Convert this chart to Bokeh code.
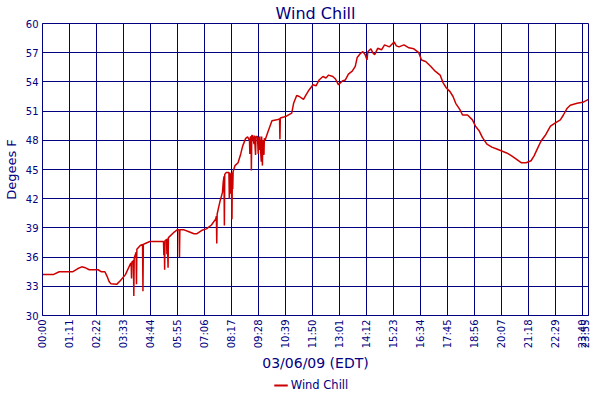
import math
from bokeh.plotting import figure
from bokeh.layouts import column
from bokeh.models import Range1d, FixedTicker, Legend, LegendItem, ColumnDataSource
from bokeh.embed import file_html
from bokeh.resources import INLINE

# time of day in minutes since 00:00
minutes = [0, 28, 44, 80, 92, 103, 113, 123, 146, 154, 164, 170, 175, 180, 195, 205, 218,
           231, 233, 234, 235, 239, 240, 241, 246, 247, 248, 257, 263, 264, 265, 270, 282,
           318, 319, 320, 321, 322, 326, 327, 328, 330, 331, 347, 354, 359, 360, 361, 372,
           385, 398, 406, 419, 431, 444, 455, 457, 458, 459, 462, 467, 473, 475, 477, 478,
           479, 483, 490, 491, 492, 494, 495, 497, 498, 499, 500, 501, 506, 514, 521, 526,
           534, 539, 544, 545, 546, 548, 549, 550, 552, 556, 557, 560, 561, 565, 567, 568,
           570, 571, 575, 576, 578, 579, 582, 583, 585, 591, 603, 616, 623, 624, 625, 634,
           642, 655, 660, 668, 675, 686, 693, 701, 711, 719, 727, 737, 745, 752, 763, 770,
           778, 788, 796, 804, 814, 822, 827, 835, 842, 848, 853, 855, 863, 868, 873, 881,
           891, 899, 912, 924, 930, 937, 950, 963, 976, 989, 996, 1007, 1020, 1032, 1045,
           1053, 1061, 1071, 1079, 1086, 1097, 1104, 1117, 1130, 1138, 1148, 1156, 1168,
           1181, 1194, 1207, 1220, 1233, 1246, 1258, 1271, 1284, 1292, 1302, 1310, 1323,
           1335, 1348, 1361, 1369, 1379, 1387, 1405, 1420, 1435]

wind_chill = [34.2, 34.2, 34.5, 34.5, 34.8, 35.0, 34.9, 34.7, 34.7, 34.5, 34.5, 34.0, 33.5, 33.25, 33.2, 33.6, 34.2,
              35.3, 35.4, 33.8, 35.5, 35.6, 32.0, 35.9, 36.5, 33.2, 36.8, 37.2, 37.3, 32.5, 37.3, 37.4, 37.6,
              37.6, 36.2, 37.6, 34.7, 37.7, 37.8, 36.3, 37.9, 34.9, 38.0, 38.6, 38.8, 38.8, 36.0, 38.8, 38.8,
              38.6, 38.4, 38.4, 38.75, 38.9, 39.3, 39.9, 40.2, 37.4, 40.4, 40.95, 41.8, 42.65, 43.7, 44.3, 39.25,
              44.5, 44.7, 44.7, 42.0, 44.7, 42.5, 44.6, 42.8, 39.9, 44.7, 43.0, 44.8, 45.4, 45.7, 46.6, 47.4,
              48.2, 48.35, 48.0, 46.6, 48.3, 48.4, 44.9, 48.5, 48.5, 47.6, 48.5, 46.5, 48.4, 48.4, 46.6, 48.3,
              47.0, 48.4, 45.8, 48.4, 45.4, 48.0, 46.5, 48.2, 48.0, 48.7, 50.0, 50.1, 50.2, 48.1, 50.3, 50.4,
              50.5, 50.8, 51.8, 52.6, 52.5, 52.2, 52.7, 53.2, 53.7, 53.6, 54.2, 54.55, 54.4, 54.7, 54.55, 54.3,
              53.7, 54.1, 54.2, 54.8, 55.1, 55.6, 56.5, 56.9, 57.1, 56.8, 56.25, 57.1, 57.4, 57.0, 56.8, 57.45,
              57.3, 57.8, 57.6, 58.1, 57.7, 57.6, 57.8, 57.5, 57.4, 57.0, 56.25, 56.1, 55.6, 55.1, 54.7,
              53.9, 53.4, 53.0, 52.5, 51.8, 51.15, 50.6, 50.6, 50.1, 49.45, 48.95, 48.3, 47.6,
              47.3, 47.1, 46.9, 46.7, 46.4, 46.05, 45.7, 45.7, 45.9, 46.4, 47.25, 47.9, 48.6,
              49.45, 49.8, 50.1, 50.6, 51.3, 51.6, 51.8, 51.9, 52.2]

x_tick_minutes = [0, 71, 142, 213, 284, 355, 426, 497, 568, 639, 710, 781, 852, 923, 994,
                  1065, 1136, 1207, 1278, 1349, 1420, 1435]
x_tick_labels = ["00:00", "01:11", "02:22", "03:33", "04:44", "05:55", "07:06", "08:17",
                 "09:28", "10:39", "11:50", "13:01", "14:12", "15:23", "16:34", "17:45",
                 "18:56", "20:07", "21:18", "22:29", "23:40", "23:55"]
y_ticks = [30, 33, 36, 39, 42, 45, 48, 51, 54, 57, 60]

NAVY = "#000080"
RED = "#CC0000"
FONT = "DejaVu Sans"

source = ColumnDataSource(dict(minute=minutes, chill=wind_chill))

p = figure(frame_width=546, frame_height=292, output_backend="svg", toolbar_location=None,
           x_range=Range1d(0, 1435), y_range=Range1d(30, 60),
           min_border_left=4, min_border_right=2, min_border_top=2, min_border_bottom=0)

p.title.text = "Wind Chill"
p.title.align = "center"
p.title.text_font = FONT
p.title.text_font_size = "16px"
p.title.text_font_style = "normal"
p.title.text_color = NAVY
p.title.standoff = 2

p.line("minute", "chill", source=source, line_color=RED, line_width=1.5)

p.xaxis.ticker = FixedTicker(ticks=x_tick_minutes)
p.xaxis.major_label_overrides = {m: l for m, l in zip(x_tick_minutes, x_tick_labels)}
p.xaxis.major_label_orientation = math.pi / 2
p.yaxis.ticker = FixedTicker(ticks=y_ticks)

for ax in (p.xaxis[0], p.yaxis[0]):
    ax.axis_line_color = NAVY
    ax.major_tick_out = 0
    ax.major_tick_in = 0
    ax.minor_tick_out = 0
    ax.minor_tick_in = 0
    ax.major_label_text_color = NAVY
    ax.major_label_text_font = FONT
    ax.major_label_text_font_size = "10px"
    ax.axis_label_text_color = NAVY
    ax.axis_label_text_font = FONT
    ax.axis_label_text_font_style = "normal"
    ax.major_label_standoff = 4
    ax.axis_label_standoff = 4

p.xaxis.axis_label = "03/06/09 (EDT)"
p.xaxis.axis_label_text_font_size = "14px"
p.yaxis.axis_label = "Degees F"
p.yaxis.axis_label_text_font_size = "13px"

p.grid.grid_line_color = NAVY
p.grid.grid_line_width = 1
p.grid.grid_line_alpha = 1
p.outline_line_color = NAVY
p.outline_line_alpha = 1

# separate thin strip that only carries the legend (its line lies outside its view)
lf = figure(width=582, height=22, output_backend="svg", toolbar_location=None,
            x_axis_type=None, y_axis_type=None,
            x_range=Range1d(-20, -10), y_range=Range1d(0, 1),
            min_border_left=0, min_border_right=0, min_border_top=0, min_border_bottom=0)
lf.outline_line_color = None
lr = lf.line("minute", "chill", source=source, line_color=RED, line_width=2)

legend = Legend(items=[LegendItem(label="Wind Chill", renderers=[lr])],
                location="center", orientation="horizontal",
                border_line_alpha=0, background_fill_alpha=0,
                label_text_color=NAVY, label_text_font=FONT, label_text_font_size="11.5px",
                glyph_width=14, glyph_height=12, padding=0, margin=0,
                label_standoff=3, label_height=12)
lf.add_layout(legend, "center")

layout = column(p, lf, spacing=0)

open("out.html", "w").write(file_html(layout, INLINE))
